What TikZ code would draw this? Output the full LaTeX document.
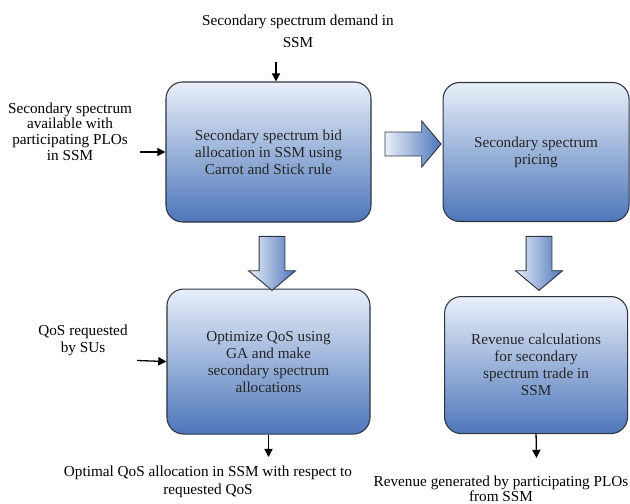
\documentclass[tikz,border=0pt]{standalone}
\usepackage{fontspec}
\setmainfont{Liberation Serif}
\usetikzlibrary{arrows.meta,positioning,shapes.arrows}
\definecolor{boxlight}{RGB}{232,239,249}
\definecolor{boxdark}{RGB}{78,118,186}
\definecolor{boxline}{RGB}{45,52,64}
\tikzset{
    %Define standard arrow tip
    >={Triangle[length=7pt,width=7pt]},
    %Define style for boxes
    block/.style={
           rectangle,
           rounded corners=0.5cm,
           draw=boxline, line width=0.9pt,
           top color=boxlight, bottom color=boxdark,
           text=black!85,
           align=center,
           font=\fontsize{13}{14.5}\selectfont},
    annote/.style={
          align=center,
          font=\fontsize{13}{14.5}\selectfont
    },
    % Define arrow style
    arrow/.style={
           ->,
           line width=1.1pt},
    % Define style for the fat block arrows
    bigarrow/.style={
           single arrow,
           draw=boxline, line width=0.8pt,
           left color=boxlight, right color=boxdark,
           single arrow tip angle=100,
           inner xsep=0pt},
}
\begin{document}
\begin{tikzpicture}[x=0.03cm,y=-0.03cm]
  \useasboundingbox (0,0) rectangle (630,504);
  % the four process boxes
  \node[block, minimum width=6.15cm, minimum height=4.2cm] (bid) at (268.5,152)
       {Secondary spectrum bid\\allocation in SSM using\\Carrot and Stick rule};
  \node[block, minimum width=5.58cm, minimum height=4.17cm, right=2.13cm of bid] (price)
       {Secondary spectrum\\pricing};
  \node[block, minimum width=6.09cm, minimum height=4.35cm, below=1.98cm of bid] (qos)
       {Optimize QoS using\\GA and make\\secondary spectrum\\allocations};
  \node[block, minimum width=5.49cm, minimum height=4.11cm, below=2.22cm of price] (rev)
       {Revenue calculations\\for secondary\\spectrum trade in\\SSM};

  % block arrows between the boxes
  \node[bigarrow, inner ysep=0.345cm, minimum height=1.68cm, minimum width=1.35cm,
        single arrow head extend=0.33cm] (toprice) at (408,144) {};
  \node[bigarrow, rotate=-90, inner ysep=0.375cm, minimum height=1.62cm, minimum width=1.38cm,
        single arrow head extend=0.315cm] (toqos) at (272,258) {};
  \node[bigarrow, rotate=-90, inner ysep=0.375cm, minimum height=1.62cm, minimum width=1.38cm,
        single arrow head extend=0.315cm] (torev) at (539,258) {};

  % inputs and outputs
  \node[annote, font=\fontsize{13}{18.7}\selectfont] (demand) at (298,31)
       {Secondary spectrum demand in\\SSM};
  \node[annote, font=\fontsize{13}{13.4}\selectfont] (avail) at (70,131.5)
       {Secondary spectrum\\available with\\participating PLOs\\in SSM};
  \node[annote] (qosreq) at (83,340.5) {QoS requested\\by SUs};
  \node[annote, font=\fontsize{13}{15.3}\selectfont] (optimal) at (208,482)
       {Optimal QoS allocation in SSM with respect to\\requested QoS};
  \node[annote, font=\fontsize{13}{13}\selectfont] (revgen) at (501,489)
       {Revenue generated by participating PLOs\\from SSM};

  \coordinate (dmdin) at (276,62);
  \coordinate (availin) at (140,152);
  \coordinate (qosin) at (137,360.5);
  \coordinate (optout) at (268.5,457);
  \coordinate (revout) at (536.5,458);
  \draw[arrow] (dmdin) -- (dmdin |- bid.north);
  \draw[arrow] (availin) -- (bid.west);
  \draw[arrow] (qosin) -- (qos.west);
  \draw[arrow] (qos.south) -- (optout);
  \draw[arrow] (rev.south) -- (revout);
\end{tikzpicture}
\end{document}
